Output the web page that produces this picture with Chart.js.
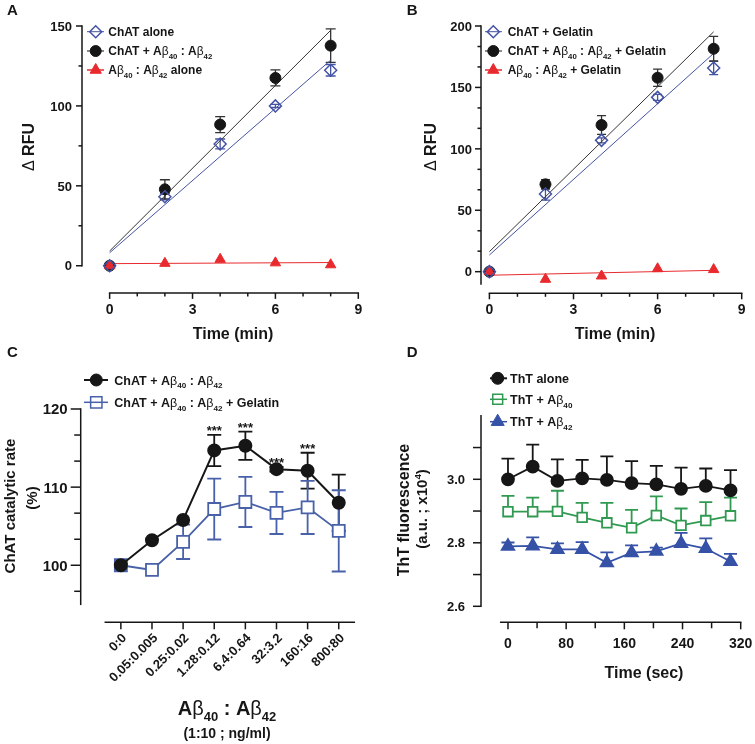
<!DOCTYPE html>
<html>
<head>
<meta charset="utf-8">
<script src="https://cdn.jsdelivr.net/npm/chart.js@4.4.0/dist/chart.umd.min.js"></script>
<style>
    html, body { margin: 0; padding: 0; background: #fff; }
    #wrap { position: relative; width: 755px; height: 744px; }
    #wrap canvas { position: absolute; left: 0; top: 0; }
</style>
</head>
<body>
<div id="wrap">
    <canvas id="panelA" width="755" height="744"></canvas>
    <canvas id="panelB" width="755" height="744"></canvas>
    <canvas id="panelC" width="755" height="744"></canvas>
    <canvas id="panelD" width="755" height="744"></canvas>
</div>
<script>
// ---- panel A: ChAT activity, no gelatin ----
const timeMin = [0, 2, 4, 6, 8];
const chatAlone = [0, 43.2, 76.2, 100, 122.3];
const chatAloneErr = [0, 2, 3.1, 1, 3.6];
const chatAbeta = [0, 47.8, 88.3, 117.5, 137.7];
const chatAbetaErr = [0, 6, 5, 5, 10.5];
const abetaAlone = [0, 1.5, 4, 1.8, 0.6];
const fitX = [0, 8];
const fitChatAlone = [8.1, 128.6];
const fitChatAbeta = [9.2, 147.3];
const fitAbetaAlone = [1.3, 2.0];
const yTicksA = [0, 50, 100, 150];
const yMinorA = [25, 75, 125];
const xTicksAB = [0, 3, 6, 9];
const xMinorAB = [1, 2, 4, 5, 7, 8];

// ---- panel B: with gelatin ----
const chatGel = [0, 63.2, 106.9, 141.9, 165.8];
const chatGelErr = [0, 5, 2, 2.5, 5.4];
const chatAbetaGel = [0, 71.1, 119.4, 157.9, 181.5];
const chatAbetaGelErr = [0, 3.8, 7.6, 7, 10];
const abetaGel = [0, -6.2, -3.5, 2.4, 1.7];
const fitChatGel = [13.6, 177.7];
const fitChatAbetaGel = [16.3, 195.3];
const fitAbetaGel = [-2.9, 1.1];
const yTicksB = [0, 50, 100, 150, 200];
const yMinorB = [16.7, 33.3, 66.7, 83.3, 116.7, 133.3, 166.7, 183.3];

// ---- panel C: catalytic rate vs Abeta ratio ----
const ratioLabels = ['0:0', '0.05:0.005', '0.25:0.02', '1.28:0.12', '6.4:0.64', '32:3.2', '160:16', '800:80'];
const rateAbeta = [100, 103.2, 105.8, 114.7, 115.3, 112.3, 112.1, 108.0];
const rateAbetaErr = [0, 0, 0, 2.0, 1.8, 0.3, 2.3, 3.6];
const rateAbetaGel = [100, 99.4, 103, 107.2, 108.1, 106.7, 107.4, 104.4];
const rateAbetaGelErr = [0, 0, 2.2, 3.9, 3.2, 2.7, 3.4, 5.2];
const sigMarks = ['', '', '', '***', '***', '***', '***', ''];
const yTicksC = [100, 110, 120];
const yMinorC = [96.67, 103.33, 106.67, 113.33, 116.67];

// ---- panel D: ThT fluorescence ----
const timeSec = [0, 34, 68, 102, 136, 170, 204, 238, 272, 306];
const thtAlone = [3.0, 3.04, 2.995, 3.003, 2.998, 2.988, 2.984, 2.970, 2.979, 2.965];
const thtAloneErr = [0.065, 0.069, 0.068, 0.058, 0.074, 0.069, 0.058, 0.067, 0.055, 0.064];
const thtAb40 = [2.898, 2.898, 2.899, 2.880, 2.863, 2.847, 2.886, 2.855, 2.870, 2.885];
const thtAb40Err = [0.050, 0.044, 0.065, 0.046, 0.063, 0.057, 0.060, 0.053, 0.058, 0.057];
const thtAb42 = [2.789, 2.790, 2.779, 2.779, 2.737, 2.769, 2.773, 2.798, 2.782, 2.741];
const thtAb42Err = [0.012, 0.027, 0.019, 0.023, 0.033, 0.023, 0.012, 0.033, 0.032, 0.024];
const yTicksD = [2.6, 2.8, 3.0];
const yMinorD = [2.7, 2.9, 3.1];
const xTicksD = [0, 80, 160, 240, 320];
const xMinorD = [40, 120, 200, 280];

const FONT = '"Liberation Sans", Arial, Helvetica, sans-serif';
const INK = '#161616';
const BLUE = '#4453a3';
const RED = '#e82a2e';
const BLUE_C = '#4861a8';
const GREEN = '#2f9a50';
const BLUE_D = '#3652a6';
const CLEAR = 'rgba(0,0,0,0)';

// "_{..}" = subscript, "^{..}" = superscript, greek letters drawn in normal weight
function parseRich(str) {
    const parts = [];
    const re = /([_^])\{([^}]*)\}/g;
    let last = 0, m;
    while ((m = re.exec(str))) {
        if (m.index > last) parts.push({ t: str.slice(last, m.index), k: '' });
        parts.push({ t: m[2], k: m[1] });
        last = re.lastIndex;
    }
    if (last < str.length) parts.push({ t: str.slice(last), k: '' });
    const out = [];
    parts.forEach(p => {
        p.t.split(/([βΔ])/).forEach(s => {
            if (s) out.push({ t: s, k: p.k, plain: /[βΔ]/.test(s) });
        });
    });
    return out;
}

function richFont(size, p) {
    const s = p.k ? size * 0.65 : size;
    return (p.plain ? '' : 'bold ') + s + 'px ' + FONT;
}

function drawRich(ctx, str, x, y, size, align, color) {
    const parts = parseRich(str);
    let w = 0;
    parts.forEach(p => { ctx.font = richFont(size, p); w += ctx.measureText(p.t).width; });
    let cx = align === 'center' ? x - w / 2 : align === 'right' ? x - w : x;
    ctx.fillStyle = color || INK;
    ctx.textAlign = 'left';
    ctx.textBaseline = 'alphabetic';
    const base = y + size * 0.36;
    parts.forEach(p => {
        ctx.font = richFont(size, p);
        const dy = p.k === '_' ? size * 0.3 : p.k === '^' ? -size * 0.4 : 0;
        ctx.fillText(p.t, cx, base + dy);
        cx += ctx.measureText(p.t).width;
    });
}

function yValue(d) {
    return typeof d === 'object' ? d.y : d;
}

function prismPlugin(spec) {
    return {
        id: 'prism',
        beforeDatasetsDraw(chart) {
            const ctx = chart.ctx;
            const ys = chart.scales.y;
            chart.data.datasets.forEach((ds, i) => {
                if (! ds.errors) {
                    return;
                }
                const meta = chart.getDatasetMeta(i);
                ctx.save();
                ctx.strokeStyle = ds.errorColor || ds.borderColor;
                ctx.lineWidth = ds.errorWidth || 1.5;
                meta.data.forEach((pt, j) => {
                    const e = ds.errors[j];
                    if (! e) {
                        return;
                    }
                    const v = yValue(ds.data[j]);
                    const top = ys.getPixelForValue(v + e);
                    const bot = ds.upOnly ? pt.y : ys.getPixelForValue(v - e);
                    const c = ds.cap || 5;
                    ctx.beginPath();
                    ctx.moveTo(pt.x, top);
                    ctx.lineTo(pt.x, bot);
                    ctx.moveTo(pt.x - c, top);
                    ctx.lineTo(pt.x + c, top);
                    if (! ds.upOnly) {
                        ctx.moveTo(pt.x - c, bot);
                        ctx.lineTo(pt.x + c, bot);
                    }
                    ctx.stroke();
                });
                ctx.restore();
            });
        },
        afterDatasetsDraw(chart) {
            drawFrame(chart, spec);
        },
    };
}

function drawFrame(chart, spec) {
    const ctx = chart.ctx, xs = chart.scales.x, ys = chart.scales.y, area = chart.chartArea;
    ctx.save();
    ctx.strokeStyle = INK;
    ctx.lineWidth = 1.5;
    const seg = (x1, y1, x2, y2, cap) => {
        ctx.lineCap = cap || 'butt';
        ctx.beginPath();
        ctx.moveTo(x1, y1);
        ctx.lineTo(x2, y2);
        ctx.stroke();
    };

    // y axis
    const ya = spec.yAxis;
    const yx = area.left + (ya.shift || 0);
    seg(yx, ys.getPixelForValue(ya.from), yx, ys.getPixelForValue(ya.to), 'square');
    ya.minor.forEach(v => {
        const p = ys.getPixelForValue(v);
        seg(yx - ya.minorTick, p, yx, p);
    });
    ya.major.forEach((v, k) => {
        const p = ys.getPixelForValue(v);
        seg(yx - ya.tick, p, yx, p);
        drawRich(ctx, ya.labels[k], yx - ya.gap, p, ya.size, 'right');
    });

    // x axis (detached, Prism style)
    const xa = spec.xAxis;
    const xy = area.bottom;
    const x0 = xa.category ? area.left : xs.getPixelForValue(xa.from);
    const x1 = xa.category ? area.right : xs.getPixelForValue(xa.to);
    seg(x0, xy, x1, xy, 'square');
    xa.minor.forEach(v => {
        const p = xs.getPixelForValue(v);
        seg(p, xy, p, xy + xa.minorTick);
    });
    xa.major.forEach((v, k) => {
        const p = xs.getPixelForValue(v);
        seg(p, xy, p, xy + xa.tick);
        if (xa.rotate) {
            ctx.save();
            ctx.translate(p + xa.dx, xy + xa.dy);
            ctx.rotate(-Math.PI / 4);
            drawRich(ctx, xa.labels[k], 0, 0, xa.size, 'right');
            ctx.restore();
        } else {
            drawRich(ctx, xa.labels[k], p, xa.labelY, xa.size, 'center');
        }
    });

    // titles
    spec.titles.forEach(t => {
        if (t.rotate) {
            ctx.save();
            ctx.translate(t.x, t.y);
            ctx.rotate(-Math.PI / 2);
            drawRich(ctx, t.text, 0, 0, t.size, 'center');
            ctx.restore();
        } else {
            drawRich(ctx, t.text, t.x, t.y, t.size, t.align || 'center');
        }
    });

    // legend
    const lg = spec.legend;
    lg.items.forEach((it, k) => {
        const y = lg.rows[k];
        if (it.lineWidth) {
            ctx.strokeStyle = it.stroke;
            ctx.lineWidth = it.lineWidth;
            seg(lg.line[0], y, lg.line[1], y);
        }
        ctx.fillStyle = it.fill;
        ctx.strokeStyle = it.stroke;
        ctx.lineWidth = it.borderWidth;
        Chart.helpers.drawPoint(ctx, { pointStyle: it.style, radius: it.radius, rotation: 0, borderWidth: it.borderWidth }, lg.markerX, y);
        drawRich(ctx, it.text, lg.textX, y, lg.size, 'left');
    });

    // significance stars
    if (spec.stars) {
        const ds = chart.data.datasets[spec.stars.dataset];
        const meta = chart.getDatasetMeta(spec.stars.dataset);
        ctx.font = 'bold ' + spec.stars.size + 'px ' + FONT;
        ctx.fillStyle = INK;
        ctx.textAlign = 'center';
        ctx.textBaseline = 'alphabetic';
        spec.stars.marks.forEach((s, j) => {
            if (! s) {
                return;
            }
            const top = ys.getPixelForValue(yValue(ds.data[j]) + (ds.errors[j] || 0));
            ctx.fillText(s, meta.data[j].x, top + spec.stars.lift);
        });
    }

    // panel letter
    drawRich(ctx, spec.letter.text, spec.letter.x, spec.letter.y, spec.letter.size, 'left');
    ctx.restore();
}

function pts(xs, ys) {
    return xs.map((x, i) => ({ x, y: ys[i] }));
}

function makePanel(id, type, data, scales, padding, spec) {
    return new Chart(document.getElementById(id), {
        type,
        data,
        options: {
            responsive: false,
            animation: false,
            events: [],
            layout: { padding },
            plugins: { legend: { display: false }, tooltip: { enabled: false } },
            scales,
        },
        plugins: [prismPlugin(spec)],
    });
}

function fitLine(ys, color) {
    return {
        data: pts(fitX, ys), showLine: true, pointRadius: 0,
        borderColor: color, borderWidth: 1, clip: false,
    };
}

// ---------- A ----------
makePanel('panelA', 'scatter', {
    datasets: [
        {
            label: 'ChAT alone', data: pts(timeMin, chatAlone), errors: chatAloneErr, cap: 5, errorWidth: 1.3,
            pointStyle: 'rectRot', pointRadius: 6, pointBorderWidth: 1.5,
            borderColor: BLUE, backgroundColor: CLEAR, clip: false,
        },
        {
            label: 'Abeta alone', data: pts(timeMin, abetaAlone),
            pointStyle: 'triangle', pointRadius: 6, borderColor: RED, backgroundColor: RED, clip: false,
        },
        {
            label: 'ChAT + Abeta', data: pts(timeMin, chatAbeta), errors: chatAbetaErr, cap: 5, errorWidth: 1.3, errorColor: '#333',
            pointStyle: 'circle', pointRadius: 5.5, borderColor: INK, backgroundColor: INK, clip: false,
        },
        fitLine(fitChatAbeta, '#333'),
        fitLine(fitChatAlone, BLUE),
        fitLine(fitAbetaAlone, RED),
    ],
}, {
    x: { type: 'linear', min: -1, max: 9, display: false },
    y: { min: -17, max: 150, display: false },
}, { left: 82, top: 26, right: 396.7, bottom: 451.1 }, {
    letter: { text: 'A', x: 7, y: 10, size: 15 },
    yAxis: { from: 0, to: 150, major: yTicksA, labels: yTicksA.map(String), minor: yMinorA, tick: 6, minorTick: 3.5, gap: 10, size: 13 },
    xAxis: { from: 0, to: 9, major: xTicksAB, labels: xTicksAB.map(String), minor: xMinorAB, tick: 6, minorTick: 3.5, labelY: 309.3, size: 14 },
    titles: [
        { text: 'Δ RFU', x: 28, y: 147, size: 16, rotate: true },
        { text: 'Time (min)', x: 233, y: 333, size: 16 },
    ],
    legend: {
        rows: [31.7, 51, 70], markerX: 95.7, line: [87, 104], textX: 108.3, size: 12,
        items: [
            { text: 'ChAT alone', style: 'rectRot', radius: 6, fill: CLEAR, stroke: BLUE, borderWidth: 1.5, lineWidth: 1 },
            { text: 'ChAT + Aβ_{40} : Aβ_{42}', style: 'circle', radius: 5.5, fill: INK, stroke: INK, borderWidth: 1, lineWidth: 1 },
            { text: 'Aβ_{40} : Aβ_{42} alone', style: 'triangle', radius: 6.5, fill: RED, stroke: RED, borderWidth: 1, lineWidth: 1.5 },
        ],
    },
});

// ---------- B ----------
makePanel('panelB', 'scatter', {
    datasets: [
        {
            label: 'ChAT + Gelatin', data: pts(timeMin, chatGel), errors: chatGelErr, cap: 4.5, errorWidth: 1.3,
            pointStyle: 'rectRot', pointRadius: 6, pointBorderWidth: 1.5,
            borderColor: BLUE, backgroundColor: CLEAR, clip: false,
        },
        {
            label: 'Abeta + Gelatin', data: pts(timeMin, abetaGel),
            pointStyle: 'triangle', pointRadius: 6, borderColor: RED, backgroundColor: RED, clip: false,
        },
        {
            label: 'ChAT + Abeta + Gelatin', data: pts(timeMin, chatAbetaGel), errors: chatAbetaGelErr, cap: 4.5, errorWidth: 1.3, errorColor: '#333',
            pointStyle: 'circle', pointRadius: 5.5, borderColor: INK, backgroundColor: INK, clip: false,
        },
        fitLine(fitChatAbetaGel, '#333'),
        fitLine(fitChatGel, BLUE),
        fitLine(fitAbetaGel, RED),
    ],
}, {
    x: { type: 'linear', min: -0.3, max: 9, display: false },
    y: { min: -17.6, max: 200, display: false },
}, { left: 481, top: 26, right: 13.3, bottom: 450.7 }, {
    letter: { text: 'B', x: 406.7, y: 10, size: 15 },
    yAxis: { from: -10, to: 200, major: yTicksB, labels: yTicksB.map(String), minor: yMinorB, tick: 6, minorTick: 3.5, gap: 9, size: 13 },
    xAxis: { from: 0, to: 9, major: xTicksAB, labels: xTicksAB.map(String), minor: xMinorAB, tick: 6, minorTick: 3.5, labelY: 309.3, size: 14 },
    titles: [
        { text: 'Δ RFU', x: 430, y: 147, size: 16, rotate: true },
        { text: 'Time (min)', x: 615, y: 333, size: 16 },
    ],
    legend: {
        rows: [31.7, 51, 70], markerX: 493.3, line: [485, 502], textX: 507.7, size: 12,
        items: [
            { text: 'ChAT + Gelatin', style: 'rectRot', radius: 6, fill: CLEAR, stroke: BLUE, borderWidth: 1.5, lineWidth: 1 },
            { text: 'ChAT + Aβ_{40} : Aβ_{42} + Gelatin', style: 'circle', radius: 5.5, fill: INK, stroke: INK, borderWidth: 1, lineWidth: 1 },
            { text: 'Aβ_{40} : Aβ_{42} + Gelatin', style: 'triangle', radius: 6.5, fill: RED, stroke: RED, borderWidth: 1, lineWidth: 1.5 },
        ],
    },
});

// ---------- C ----------
makePanel('panelC', 'line', {
    labels: ratioLabels,
    datasets: [
        {
            label: 'ChAT + Abeta', data: rateAbeta, errors: rateAbetaErr, cap: 7, errorWidth: 1.8,
            borderColor: INK, borderWidth: 2, pointStyle: 'circle', pointRadius: 6,
            pointBackgroundColor: INK, pointBorderColor: INK, clip: false,
        },
        {
            label: 'ChAT + Abeta + Gelatin', data: rateAbetaGel, errors: rateAbetaGelErr, cap: 7, errorWidth: 1.8,
            borderColor: BLUE_C, borderWidth: 1.8, pointStyle: 'rect', pointRadius: 8.5,
            pointBackgroundColor: '#fff', pointBorderColor: BLUE_C, pointBorderWidth: 1.8, clip: false,
        },
    ],
}, {
    x: { type: 'category', offset: true, display: false },
    y: { min: 92.7, max: 120, display: false },
}, { left: 105.3, top: 409, right: 400.7, bottom: 121.7 }, {
    letter: { text: 'C', x: 7, y: 352, size: 15 },
    yAxis: { shift: -24.6, from: 95, to: 120, major: yTicksC, labels: yTicksC.map(String), minor: yMinorC, tick: 10, minorTick: 6.5, gap: 13, size: 15 },
    xAxis: { category: true, major: ratioLabels.map((l, i) => i), labels: ratioLabels, minor: [], tick: 7, rotate: true, dx: 3, dy: 13, size: 13 },
    titles: [
        { text: 'ChAT catalytic rate', x: 10, y: 506, size: 15, rotate: true },
        { text: '(%)', x: 31.7, y: 498, size: 15, rotate: true },
        { text: 'Aβ_{40} : Aβ_{42}', x: 227, y: 708, size: 20 },
        { text: '(1:10 ; ng/ml)', x: 227, y: 733, size: 14 },
    ],
    legend: {
        rows: [380, 402.3], markerX: 96.3, line: [84, 108], textX: 114.3, size: 12.5,
        items: [
            { text: 'ChAT + Aβ_{40} : Aβ_{42}', style: 'circle', radius: 6, fill: INK, stroke: INK, borderWidth: 1, lineWidth: 2 },
            { text: 'ChAT + Aβ_{40} : Aβ_{42} + Gelatin', style: 'rect', radius: 8, fill: CLEAR, stroke: BLUE_C, borderWidth: 1.5, lineWidth: 1.5 },
        ],
    },
    stars: { dataset: 0, marks: sigMarks, size: 13, lift: 0.5 },
});

// ---------- D ----------
makePanel('panelD', 'scatter', {
    datasets: [
        {
            label: 'ThT alone', data: pts(timeSec, thtAlone), errors: thtAloneErr, upOnly: true, cap: 6.5, errorWidth: 1.8,
            showLine: true, borderColor: INK, borderWidth: 1.8, pointStyle: 'circle', pointRadius: 6,
            pointBackgroundColor: INK, pointBorderColor: INK, clip: false,
        },
        {
            label: 'ThT + Abeta40', data: pts(timeSec, thtAb40), errors: thtAb40Err, upOnly: true, cap: 6.5, errorWidth: 1.8,
            showLine: true, borderColor: GREEN, borderWidth: 1.8, pointStyle: 'rect', pointRadius: 6.8,
            pointBackgroundColor: '#fff', pointBorderColor: GREEN, pointBorderWidth: 1.8, clip: false,
        },
        {
            label: 'ThT + Abeta42', data: pts(timeSec, thtAb42), errors: thtAb42Err, upOnly: true, cap: 6.5, errorWidth: 1.8,
            showLine: true, borderColor: BLUE_D, borderWidth: 1.8, pointStyle: 'triangle', pointRadius: 7.2,
            pointBackgroundColor: BLUE_D, pointBorderColor: BLUE_D, clip: false,
        },
    ],
}, {
    x: { type: 'linear', min: -37.1, max: 320, display: false },
    y: { min: 2.5496, max: 3.2, display: false },
}, { left: 481, top: 415.8, right: 14.3, bottom: 121.7 }, {
    letter: { text: 'D', x: 406.7, y: 352, size: 15 },
    yAxis: { from: 2.6, to: 3.2, major: yTicksD, labels: yTicksD.map(v => v.toFixed(1)), minor: yMinorD, tick: 8, minorTick: 8, gap: 16, size: 13 },
    xAxis: { from: -10, to: 320, major: xTicksD, labels: xTicksD.map(String), minor: xMinorD, tick: 7, minorTick: 6, labelY: 643.3, size: 14 },
    titles: [
        { text: 'ThT fluorescence', x: 403.3, y: 510, size: 16, rotate: true },
        { text: '(a.u. ; x10^{4})', x: 421.7, y: 509, size: 15, rotate: true },
        { text: 'Time (sec)', x: 644, y: 672, size: 16 },
    ],
    legend: {
        rows: [378.3, 399.3, 421.7], markerX: 497.7, line: [490, 507], textX: 510, size: 12.5,
        items: [
            { text: 'ThT alone', style: 'circle', radius: 6, fill: INK, stroke: INK, borderWidth: 1, lineWidth: 2 },
            { text: 'ThT + Aβ_{40}', style: 'rect', radius: 7, fill: CLEAR, stroke: GREEN, borderWidth: 1.5, lineWidth: 1.5 },
            { text: 'ThT + Aβ_{42}', style: 'triangle', radius: 7.5, fill: BLUE_D, stroke: BLUE_D, borderWidth: 1, lineWidth: 1.5 },
        ],
    },
});
</script>
</body>
</html>
